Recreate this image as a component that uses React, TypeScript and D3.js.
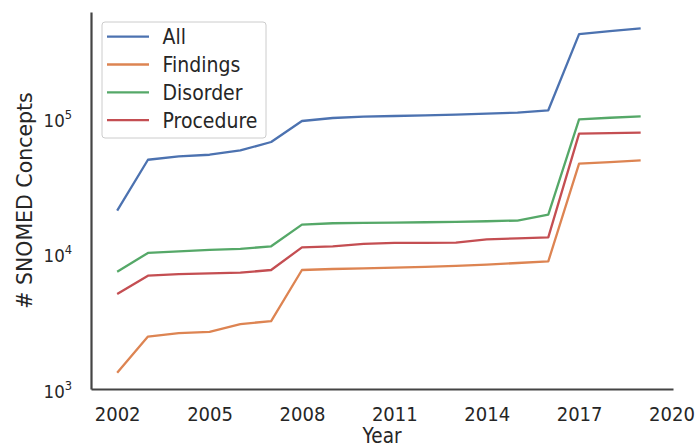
import React, { useEffect, useRef } from 'react';
import * as d3 from 'd3';

// SNOMED concept counts per release year
const YEARS = [2002, 2003, 2004, 2005, 2006, 2007, 2008, 2009, 2010, 2011, 2012, 2013, 2014, 2015, 2016, 2017, 2018, 2019];
const ALL = [20800, 49400, 52300, 53800, 57900, 66800, 95500, 100500, 103000, 104000, 105200, 106500, 108400, 110200, 114600, 419000, 441000, 462000];
const FINDINGS = [1320, 2440, 2590, 2640, 3020, 3170, 7570, 7700, 7780, 7880, 7990, 8110, 8290, 8530, 8770, 46200, 47400, 48900];
const DISORDER = [7360, 10120, 10400, 10650, 10840, 11330, 16400, 16770, 16880, 16970, 17060, 17180, 17350, 17560, 19450, 98300, 100900, 103500];
const PROCEDURE = [5030, 6870, 7070, 7150, 7230, 7570, 11130, 11330, 11800, 12000, 12000, 12060, 12760, 12980, 13200, 77000, 77700, 78400];

const SERIES_NAMES = ['All', 'Findings', 'Disorder', 'Procedure'];
const SERIES_VALUES = [ALL, FINDINGS, DISORDER, PROCEDURE];
const X_TICKS = [2002, 2005, 2008, 2011, 2014, 2017, 2020];
const Y_TICKS = [1e3, 1e4, 1e5];

// seaborn "deep" palette
const COLORS = ['#4c72b0', '#dd8452', '#55a868', '#c44e52'];

const WIDTH = 698;
const HEIGHT = 448;
const FONT = 'DejaVu Sans, sans-serif';
const TEXT = '#262626';
const SQUASH = 'scale(0.9,1)';

export default function App() {
  const svgRef = useRef<SVGSVGElement>(null);

  useEffect(() => {
    if (!svgRef.current) return;
    const svg = d3.select(svgRef.current);
    svg.selectAll('*').remove();

    const plot = { left: 91, right: 673, top: 12, bottom: 389 };

    const x = d3.scaleLinear().domain([2001.15, 2020.05]).range([plot.left, plot.right]);
    const y = d3.scaleLog().domain([1000, 6.1e5]).range([plot.bottom, plot.top]);

    // lines
    const line = d3.line<number>()
      .x((_, i) => x(YEARS[i]))
      .y(d => y(d));

    SERIES_VALUES.forEach((vals, i) => {
      svg.append('path')
        .datum(vals)
        .attr('d', line)
        .attr('fill', 'none')
        .attr('stroke', COLORS[i])
        .attr('stroke-width', 2.3)
        .attr('stroke-linejoin', 'round')
        .attr('stroke-linecap', 'butt');
    });

    // x axis
    svg.append('g')
      .attr('transform', `translate(0,${plot.bottom})`)
      .call(d3.axisBottom(x).tickValues(X_TICKS).tickSize(0).tickSizeOuter(0).tickPadding(17.5).tickFormat(d3.format('d')))
      .call(g => g.select('.domain').attr('stroke', '#444').attr('stroke-width', 2.2))
      .call(g => g.selectAll('.tick text')
        .attr('fill', TEXT)
        .attr('font-size', 20)
        .attr('font-family', FONT)
        .attr('transform', SQUASH));

    // y axis (log, 10^n labels)
    svg.append('g')
      .attr('transform', `translate(${plot.left},0)`)
      .call(d3.axisLeft(y).tickValues(Y_TICKS).tickSize(0).tickSizeOuter(0).tickFormat(() => ''))
      .call(g => g.select('.domain').attr('stroke', '#444').attr('stroke-width', 2.2))
      .call(g => g.selectAll<SVGTextElement, number>('.tick text').each(function (d) {
        const t = d3.select(this)
          .attr('x', -21)
          .attr('dy', 8)
          .attr('fill', TEXT)
          .attr('font-size', 18.5)
          .attr('font-family', FONT)
          .attr('transform', SQUASH);
        t.append('tspan').text('10');
        t.append('tspan')
          .attr('dy', -8)
          .attr('font-size', 12.8)
          .text(String(Math.round(Math.log10(d))));
      }));

    // axis labels
    svg.append('text')
      .attr('transform', `translate(${(plot.left + plot.right) / 2},442.5) ${SQUASH}`)
      .attr('text-anchor', 'middle')
      .attr('fill', TEXT)
      .attr('font-size', 20.5)
      .attr('font-family', FONT)
      .text('Year');

    svg.append('text')
      .attr('transform', `translate(32,${(plot.top + plot.bottom) / 2}) rotate(-90)`)
      .attr('text-anchor', 'middle')
      .attr('fill', TEXT)
      .attr('font-size', 20.5)
      .attr('font-family', FONT)
      .text('# SNOMED Concepts');

    // legend
    const legend = svg.append('g');
    legend.append('rect')
      .attr('x', 102)
      .attr('y', 22)
      .attr('width', 164)
      .attr('height', 116)
      .attr('rx', 3)
      .attr('fill', 'white')
      .attr('fill-opacity', 0.8)
      .attr('stroke', '#cccccc')
      .attr('stroke-width', 1);

    SERIES_NAMES.forEach((name, i) => {
      const ry = 36.7 + i * 27.8;
      legend.append('line')
        .attr('x1', 107)
        .attr('x2', 149)
        .attr('y1', ry)
        .attr('y2', ry)
        .attr('stroke', COLORS[i])
        .attr('stroke-width', 2.3);
      legend.append('text')
        .attr('transform', `translate(162.5,${ry + 7.6}) ${SQUASH}`)
        .attr('fill', TEXT)
        .attr('font-size', 21)
        .attr('font-family', FONT)
        .text(name);
    });
  }, []);

  return (
    <svg
      ref={svgRef}
      width={WIDTH}
      height={HEIGHT}
      viewBox={`0 0 ${WIDTH} ${HEIGHT}`}
      style={{ position: 'absolute', left: 0, top: 0, background: 'white' }}
    />
  );
}
